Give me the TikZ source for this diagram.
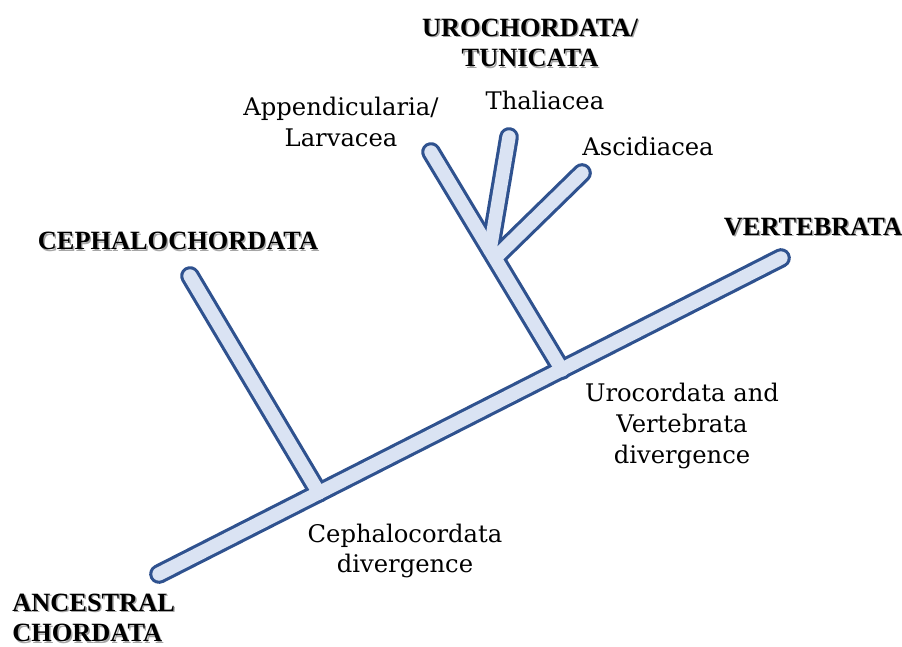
\documentclass[tikz,border=0pt]{standalone}
\usepackage{fontspec}
\setmainfont{Liberation Serif}
\newfontfamily\classfont{DejaVu Serif}
\definecolor{tubeline}{RGB}{47,82,143}
\definecolor{tubefill}{RGB}{218,227,243}
\newcommand\taxonlabel[3]{%
	\node[taxonshadow] at (#2) {#3};
	\node[taxon] (#1) at (#2) {#3};}
\begin{document}
\begin{tikzpicture}[x=0.02cm,y=-0.02cm,
	tubeout/.style={line width=11.2pt, tubeline, line cap=round},
	tubein/.style={line width=7.6pt, tubefill, line cap=round},
	lbl/.style={font=\classfont\fontsize{13.8}{17.5}\selectfont, align=center, inner sep=0pt},
	taxon/.style={font=\fontsize{15}{17.5}\selectfont\bfseries, align=center, inner sep=0pt},
	taxonshadow/.style={taxon, text=black!35, xshift=0.8pt, yshift=-0.8pt}]
	\useasboundingbox (0,0) rectangle (902,646);

	% punti dell'albero
	\coordinate (root) at (159,574);
	\coordinate (vert) at (781,258);
	\coordinate (cephj) at (319,493);
	\coordinate (ceph) at (190,276);
	\coordinate (uroj) at (562,370);
	\coordinate (larv) at (431,152);
	\coordinate (thal) at (509,137);
	\coordinate (thalj) at (490,250);
	\coordinate (ascid) at (582,173);
	\coordinate (ascidj) at (495,258);

	% rami: prima il bordo, poi il riempimento
	\foreach \s in {tubeout,tubein} {
		\draw[\s] (root) -- (vert);
		\draw[\s] (cephj) -- (ceph);
		\draw[\s] (uroj) -- (larv);
		\draw[\s] (thalj) -- (thal);
		\draw[\s] (ascidj) -- (ascid);
	}

	% gruppi
	\taxonlabel{uro}{530,43}{UROCHORDATA/\\TUNICATA}
	\taxonlabel{cephlbl}{178,241}{CEPHALOCHORDATA}
	\taxonlabel{vertlbl}{813,227}{VERTEBRATA}
	\node[taxonshadow, anchor=west, align=left] at (12,618) {ANCESTRAL\\CHORDATA};
	\node[taxon, anchor=west, align=left] (anc) at (12,618) {ANCESTRAL\\CHORDATA};

	% classi
	\node[lbl] (larvlbl) at (341,122) {Appendicularia/\\Larvacea};
	\node[lbl] (thallbl) at (545,100) {Thaliacea};
	\node[lbl] (ascidlbl) at (648,146) {Ascidiacea};

	% divergenze
	\node[lbl] (urodiv) at (682,426) {Urocordata and\\Vertebrata\\divergence};
	\node[lbl] (cephdiv) at (405,551) {Cephalocordata\\divergence};
\end{tikzpicture}
\end{document}
